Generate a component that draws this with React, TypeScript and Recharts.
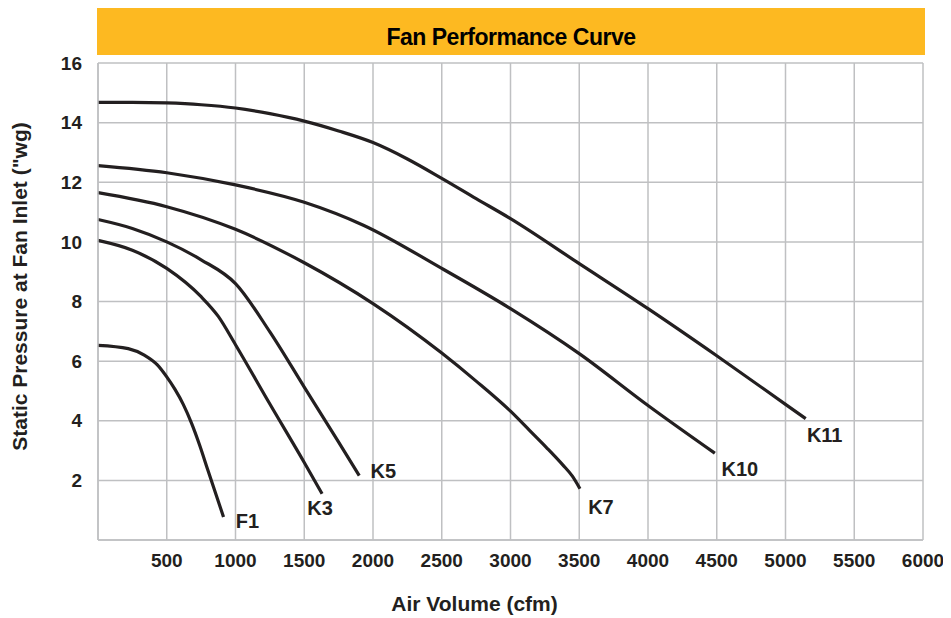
import React from 'react';
import { LineChart, Line, XAxis, YAxis, CartesianGrid } from 'recharts';

// tick labels
const X_TICKS = [500, 1000, 1500, 2000, 2500, 3000, 3500, 4000, 4500, 5000, 5500, 6000];
const Y_TICKS = [2, 4, 6, 8, 10, 12, 14, 16];

// curves: air volume (cfm) vs static pressure ("wg)
const F1_CFM = [0, 220, 340, 430, 500, 560, 620, 680, 740, 800, 913];
const F1_WG = [6.53, 6.42, 6.19, 5.88, 5.47, 5.05, 4.55, 3.92, 3.17, 2.33, 0.77];

const K3_CFM = [0, 250, 500, 750, 875, 1000, 1250, 1500, 1630];
const K3_WG = [10.05, 9.72, 9.11, 8.16, 7.5, 6.55, 4.56, 2.6, 1.55];

const K5_CFM = [0, 250, 500, 750, 1000, 1250, 1500, 1750, 1900];
const K5_WG = [10.75, 10.45, 10.0, 9.4, 8.6, 6.98, 5.13, 3.28, 2.16];

const K7_CFM = [0, 500, 1000, 1500, 2000, 2500, 2750, 3000, 3140, 3260, 3380, 3450, 3505];
const K7_WG = [11.65, 11.18, 10.42, 9.3, 7.93, 6.27, 5.33, 4.32, 3.67, 3.11, 2.52, 2.14, 1.72];

const K10_CFM = [0, 500, 1000, 1500, 1930, 2500, 3000, 3500, 4000, 4486];
const K10_WG = [12.56, 12.32, 11.91, 11.33, 10.56, 9.11, 7.76, 6.25, 4.51, 2.91];

const K11_CFM = [0, 250, 500, 750, 1000, 1250, 1500, 1750, 2000, 2250, 2500, 2750, 3000, 3500, 4000, 4500, 5000, 5147];
const K11_WG = [14.68, 14.68, 14.66, 14.6, 14.49, 14.3, 14.05, 13.72, 13.33, 12.78, 12.13, 11.45, 10.78, 9.27, 7.76, 6.18, 4.55, 4.07];

const toPoints = (cfm: number[], wg: number[]) => cfm.map((c, i) => ({ cfm: c, wg: wg[i] }));

const SERIES = [
  { name: 'F1', data: toPoints(F1_CFM, F1_WG) },
  { name: 'K3', data: toPoints(K3_CFM, K3_WG) },
  { name: 'K5', data: toPoints(K5_CFM, K5_WG) },
  { name: 'K7', data: toPoints(K7_CFM, K7_WG) },
  { name: 'K10', data: toPoints(K10_CFM, K10_WG) },
  { name: 'K11', data: toPoints(K11_CFM, K11_WG) },
];

// where each curve's name sits relative to its last point
const LABEL_OFFSET: Record<string, [number, number]> = {
  F1: [24, 4],
  K3: [-2, 14],
  K5: [24, -5],
  K7: [21, 18],
  K10: [25, 16],
  K11: [19, 16],
};

const FONT = '"Liberation Sans", Arial, Helvetica, sans-serif';
const INK = '#231f20';
const GRID = '#bfc0c2';

function endLabel(name: string, last: number) {
  const [dx, dy] = LABEL_OFFSET[name];
  return (props: any) => {
    if (props.index !== last) return null;
    return (
      <text
        x={props.x + dx}
        y={props.y + dy + 7}
        textAnchor="middle"
        fontFamily={FONT}
        fontWeight="bold"
        fontSize={20}
        fill={INK}
      >
        {name}
      </text>
    );
  };
}

const YTitle = (props: any) => {
  const { viewBox } = props;
  const cx = 19;
  const cy = viewBox.y + viewBox.height / 2 - 15;
  return (
    <text
      x={cx}
      y={cy}
      transform={`rotate(-90, ${cx}, ${cy})`}
      textAnchor="middle"
      fontFamily={FONT}
      fontWeight="bold"
      fontSize={21}
      fill={INK}
    >
      Static Pressure at Fan Inlet ("wg)
    </text>
  );
};

const XTitle = (props: any) => {
  const { viewBox } = props;
  return (
    <text
      x={viewBox.x + viewBox.width / 2 - 36}
      y={viewBox.y + 71}
      textAnchor="middle"
      fontFamily={FONT}
      fontWeight="bold"
      fontSize={21}
      fill={INK}
    >
      Air Volume (cfm)
    </text>
  );
};

export default function App() {
  const tickStyle = { fill: INK, fontFamily: FONT, fontWeight: 'bold', fontSize: 19 } as any;

  return (
    <div style={{ position: 'relative', width: 935, height: 610 }}>
      <div
        style={{
          position: 'absolute',
          left: 89,
          top: 0,
          width: 828,
          height: 47,
          background: '#fdb921',
          display: 'flex',
          alignItems: 'center',
          justifyContent: 'center',
        }}
      >
        <span
          style={{
            fontFamily: FONT,
            fontWeight: 'bold',
            fontSize: 23,
            letterSpacing: -0.5,
            color: '#000',
            marginTop: 12,
          }}
        >
          Fan Performance Curve
        </span>
      </div>
      <div style={{ position: 'absolute', left: 0, top: 0 }}>
        <LineChart width={935} height={610} margin={{ top: 55, right: 20, left: 0, bottom: 0 }}>
          <CartesianGrid stroke={GRID} strokeWidth={1.5} />
          <XAxis
            dataKey="cfm"
            type="number"
            domain={[0, 6000]}
            ticks={X_TICKS}
            allowDuplicatedCategory={false}
            height={78}
            tickLine={false}
            tickMargin={8}
            axisLine={{ stroke: GRID, strokeWidth: 1.5 }}
            tick={tickStyle}
            label={<XTitle />}
          />
          <YAxis
            type="number"
            domain={[0, 16]}
            ticks={Y_TICKS}
            width={90}
            tickLine={false}
            tickMargin={10}
            axisLine={{ stroke: GRID, strokeWidth: 1.5 }}
            tick={tickStyle}
            label={<YTitle />}
          />
          {SERIES.map((s) => (
            <Line
              key={s.name}
              data={s.data}
              dataKey="wg"
              type="monotone"
              stroke={INK}
              strokeWidth={3.2}
              dot={false}
              activeDot={false}
              isAnimationActive={false}
              label={endLabel(s.name, s.data.length - 1)}
            />
          ))}
        </LineChart>
      </div>
    </div>
  );
}
